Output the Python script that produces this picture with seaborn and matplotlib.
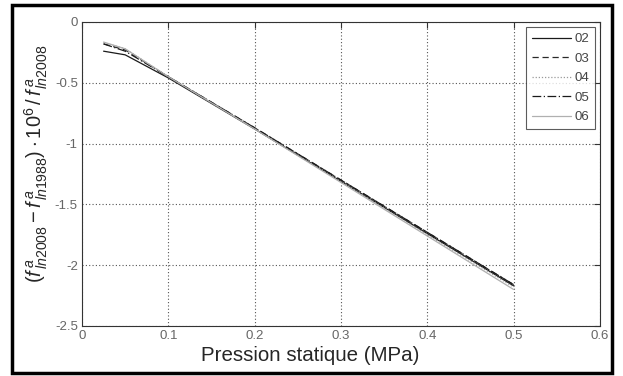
import numpy as np
import pandas as pd
import matplotlib
matplotlib.use("Agg")
import matplotlib.pyplot as plt
import seaborn as sns

# static pressure (MPa) and relative shift for each run
pression = [0.025, 0.05, 0.1, 0.2, 0.3, 0.4, 0.5]
serie_02 = [-0.24, -0.27, -0.46, -0.88, -1.31, -1.74, -2.17]
serie_03 = [-0.18, -0.23, -0.45, -0.87, -1.30, -1.73, -2.16]
serie_04 = [-0.17, -0.22, -0.45, -0.88, -1.31, -1.75, -2.18]
serie_05 = [-0.18, -0.24, -0.45, -0.87, -1.30, -1.73, -2.16]
serie_06 = [-0.165, -0.22, -0.45, -0.88, -1.32, -1.76, -2.20]
labels = ["02", "03", "04", "05", "06"]

sns.set_style("white")
plt.rcParams["font.family"] = ["Liberation Sans", "DejaVu Sans"]
plt.rcParams["mathtext.fontset"] = "custom"
plt.rcParams["mathtext.rm"] = "Liberation Sans"
plt.rcParams["mathtext.it"] = "Liberation Sans:italic"

df = pd.DataFrame({"p": pression * 5,
                   "v": serie_02 + serie_03 + serie_04 + serie_05 + serie_06,
                   "run": sum([[l] * len(pression) for l in labels], [])})

styles = {"02": ("#1a1a1a", "-"), "03": ("#2a2a2a", (0, (5, 3))),
          "04": ("#9a9a9a", (0, (1, 1.5))), "05": ("#1a1a1a", (0, (7, 2, 1, 2))),
          "06": ("#b0b0b0", "-")}

fig = plt.figure(figsize=(6.23, 3.76), dpi=100)
ax = fig.add_axes([82 / 623, 50 / 376, 518 / 623, 304 / 376])
for run in labels:
    c, ls = styles[run]
    sns.lineplot(data=df[df.run == run], x="p", y="v", ax=ax, color=c,
                 linestyle=ls, linewidth=0.9, label=run)

ax.set_xlim(0, 0.6)
ax.set_ylim(-2.5, 0)
ax.set_xticks(np.arange(0, 0.61, 0.1))
ax.set_xticklabels(["0", "0.1", "0.2", "0.3", "0.4", "0.5", "0.6"])
ax.set_yticks([-2.5, -2, -1.5, -1, -0.5, 0])
ax.set_yticklabels(["-2.5", "-2", "-1.5", "-1", "-0.5", "0"])
ax.tick_params(direction="in", length=4, labelsize=9.5, labelcolor="#666666",
               color="#333333", top=True, right=True, pad=3)
ax.grid(True, linestyle=(0, (1, 2)), color="#555555", linewidth=0.8)
for s in ax.spines.values():
    s.set_color("#333333")
    s.set_linewidth(0.8)

ax.set_xlabel("Pression statique (MPa)", fontsize=14.8)
ax.xaxis.set_label_coords(0.44, -0.065, transform=ax.transAxes)
ax.xaxis.label.set_va("top")
ax.set_ylabel(r"$(f^{\,a}_{\,ln2008} - f^{\,a}_{\,ln1988})\cdot10^6\,/\,f^{\,a}_{\,ln2008}$",
              fontsize=14.5)
ax.yaxis.set_label_coords(-0.062, 0.533, transform=ax.transAxes)

leg = ax.legend(loc="upper right", fontsize=9.5, frameon=True, fancybox=False,
                edgecolor="#333333", markerfirst=True, handlelength=3.0,
                borderaxespad=0.4, labelspacing=0.55, handletextpad=0.2,
                borderpad=0.45)
leg.get_frame().set_linewidth(0.8)
for t in leg.get_texts():
    t.set_color("#444444")

# thick black frame around the figure
fig.patches.append(plt.Rectangle((12 / 623, 3 / 376), 600 / 623, 368 / 376,
                                 transform=fig.transFigure, fill=False,
                                 edgecolor="black", linewidth=2.5))

fig.savefig("out.png", dpi=100)
